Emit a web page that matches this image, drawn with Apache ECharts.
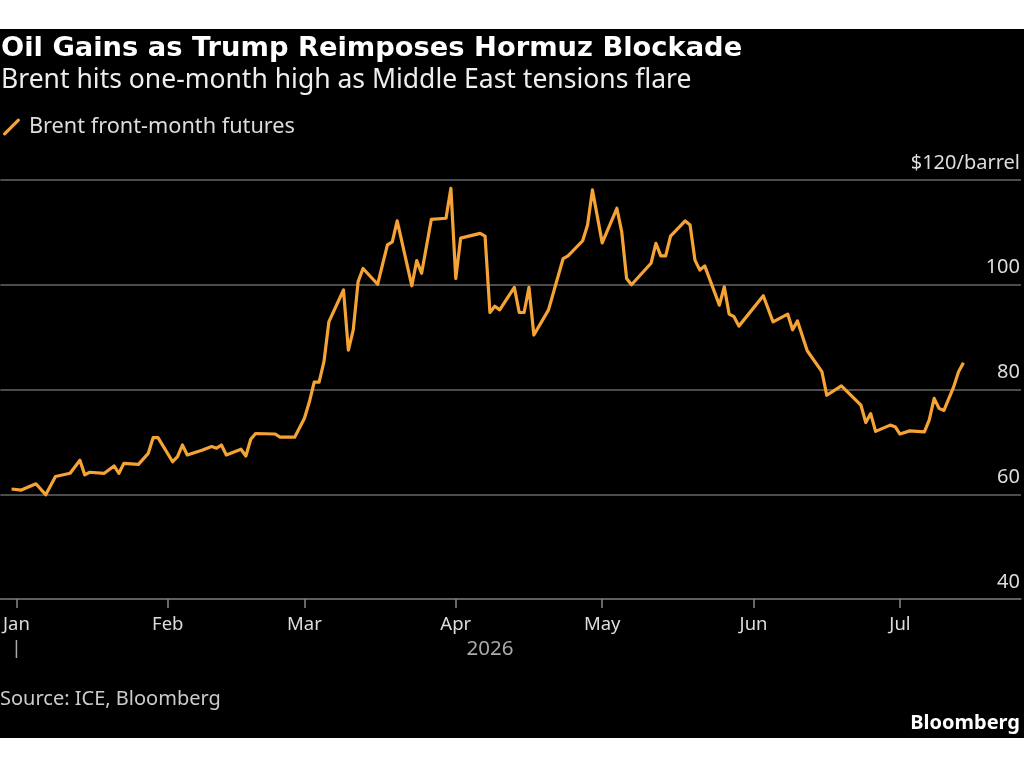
<!DOCTYPE html>
<html>
<head>
<meta charset="utf-8">
<title>Oil Gains as Trump Reimposes Hormuz Blockade</title>
<script src="https://cdn.jsdelivr.net/npm/echarts@6/dist/echarts.min.js"></script>
<style>
    html, body {
        margin: 0;
        padding: 0;
        background: #fff;
    }

    #chart {
        position: absolute;
        left: 0;
        top: 29px;
        width: 1024px;
        height: 709px;
    }
</style>
</head>
<body>
<div id="chart"></div>
<script>
// Brent front-month futures, $/barrel (turning points only)
const dates = [
    '2025-12-31', '2026-01-02', '2026-01-05', '2026-01-07', '2026-01-09', '2026-01-12', '2026-01-14',
    '2026-01-15', '2026-01-16', '2026-01-19', '2026-01-21', '2026-01-22', '2026-01-23', '2026-01-26',
    '2026-01-28', '2026-01-29', '2026-01-30', '2026-02-02', '2026-02-03', '2026-02-04', '2026-02-05',
    '2026-02-08', '2026-02-10', '2026-02-11', '2026-02-12', '2026-02-13', '2026-02-16', '2026-02-17',
    '2026-02-18', '2026-02-19', '2026-02-23', '2026-02-24', '2026-02-27', '2026-03-01', '2026-03-02',
    '2026-03-03', '2026-03-04', '2026-03-05', '2026-03-06', '2026-03-09', '2026-03-10', '2026-03-11',
    '2026-03-12', '2026-03-13', '2026-03-16', '2026-03-18', '2026-03-19', '2026-03-20', '2026-03-23',
    '2026-03-24', '2026-03-25', '2026-03-27', '2026-03-30', '2026-03-31', '2026-04-01', '2026-04-02',
    '2026-04-06', '2026-04-07', '2026-04-08', '2026-04-09', '2026-04-10', '2026-04-13', '2026-04-14',
    '2026-04-15', '2026-04-16', '2026-04-17', '2026-04-20', '2026-04-23', '2026-04-24', '2026-04-27',
    '2026-04-28', '2026-04-29', '2026-05-01', '2026-05-04', '2026-05-05', '2026-05-06', '2026-05-07',
    '2026-05-11', '2026-05-12', '2026-05-13', '2026-05-14', '2026-05-15', '2026-05-18', '2026-05-19',
    '2026-05-20', '2026-05-21', '2026-05-22', '2026-05-25', '2026-05-26', '2026-05-27', '2026-05-28',
    '2026-05-29', '2026-06-03', '2026-06-05', '2026-06-08', '2026-06-09', '2026-06-10', '2026-06-12',
    '2026-06-15', '2026-06-16', '2026-06-19', '2026-06-23', '2026-06-24', '2026-06-25', '2026-06-26',
    '2026-06-29', '2026-06-30', '2026-07-01', '2026-07-03', '2026-07-06', '2026-07-07', '2026-07-08',
    '2026-07-09', '2026-07-10', '2026-07-12', '2026-07-13', '2026-07-14'
];
const prices = [
    61.0, 60.8, 62.0, 59.9, 63.4, 64.0, 66.5,
    63.7, 64.2, 64.0, 65.4, 64.0, 65.9, 65.7,
    67.8, 70.8, 70.8, 66.2, 67.2, 69.4, 67.5,
    68.4, 69.1, 68.8, 69.4, 67.5, 68.6, 67.3,
    70.5, 71.6, 71.5, 70.9, 70.9, 74.5, 77.6,
    81.4, 81.4, 85.3, 92.9, 99.0, 87.5, 91.4,
    100.6, 103.1, 100.1, 107.6, 108.2, 112.2, 99.8,
    104.6, 102.2, 112.5, 112.7, 118.4, 101.2, 108.9,
    109.8, 109.3, 94.7, 95.9, 95.2, 99.5, 94.7,
    94.7, 99.5, 90.4, 95.2, 105.0, 105.5, 108.4,
    111.4, 118.1, 108.0, 114.6, 110.1, 101.2, 100.0,
    104.1, 107.9, 105.5, 105.5, 109.3, 112.2, 111.4,
    104.7, 102.8, 103.6, 96.1, 99.6, 94.4, 93.9,
    92.1, 97.9, 92.9, 94.4, 91.4, 93.1, 87.4,
    83.4, 78.9, 80.7, 77.0, 73.7, 75.4, 72.0,
    73.2, 72.9, 71.5, 72.1, 71.9, 74.2, 78.3,
    76.4, 76.0, 80.5, 83.4, 85.1
];
const yTicks = [40, 60, 80, 100, 120];
const monthNames = ['Jan', 'Feb', 'Mar', 'Apr', 'May', 'Jun', 'Jul', 'Aug', 'Sep', 'Oct', 'Nov', 'Dec'];
const yearLabel = '2026';
const seriesName = 'Brent front-month futures';

const orange = '#f6a336';
const fontMain = '"Noto Sans", "DejaVu Sans", sans-serif';

let chart = echarts.init(document.getElementById('chart'));

let option = {
    backgroundColor: '#000',
    animation: false,
    title: [
        {
            text: 'Oil Gains as Trump Reimposes Hormuz Blockade',
            left: 1,
            top: 6,
            padding: 0,
            textStyle: {
                color: '#fff',
                fontFamily: '"DejaVu Sans", sans-serif',
                fontWeight: 'bold',
                fontSize: 27.3,
            },
        },
        {
            text: 'Brent hits one-month high as Middle East tensions flare',
            left: 1,
            top: 38,
            padding: 0,
            textStyle: {
                color: '#eee',
                fontFamily: fontMain,
                fontWeight: 'normal',
                fontSize: 26.5,
            },
        },
        {
            text: 'Source: ICE, Bloomberg',
            left: 0,
            top: 660,
            padding: 0,
            textStyle: {
                color: '#ccc',
                fontFamily: fontMain,
                fontWeight: 'normal',
                fontSize: 20,
            },
        },
        {
            text: 'Bloomberg',
            right: 4,
            top: 684,
            padding: 0,
            textStyle: {
                color: '#fff',
                fontFamily: fontMain,
                fontWeight: 'bold',
                fontSize: 20,
            },
        },
    ],
    legend: {
        left: 3,
        top: 87,
        padding: 0,
        itemWidth: 17,
        itemHeight: 17,
        icon: 'path://M2,16 L14,4 A1.4,1.4 0 0 1 16,6 L4,18 A1.4,1.4 0 0 1 2,16 Z',
        textStyle: {
            color: '#ddd',
            fontFamily: fontMain,
            fontSize: 21.7,
            padding: [0, 0, 0, 4],
        },
        data: [seriesName],
    },
    grid: {
        left: 0,
        right: 3,
        top: 151,
        height: 419,
    },
    xAxis: {
        type: 'time',
        min: '2025-12-28 17:00:00',
        max: '2026-07-25 19:00:00',
        splitNumber: 7,
        axisLine: {
            lineStyle: {
                color: '#666',
                width: 1.5,
            },
        },
        axisTick: {
            show: true,
            length: 9,
            lineStyle: {
                color: '#888',
                width: 1.5,
            },
        },
        splitLine: { show: false },
        axisLabel: {
            color: '#ddd',
            fontFamily: fontMain,
            fontSize: 18.5,
            margin: 16,
            hideOverlap: false,
            formatter: function (val) {
                let d = new Date(val);
                return monthNames[d.getMonth()];
            },
        },
    },
    yAxis: {
        type: 'value',
        position: 'right',
        min: yTicks[0],
        max: yTicks[yTicks.length - 1],
        interval: 20,
        axisLine: { show: false },
        axisTick: { show: false },
        splitLine: {
            lineStyle: {
                color: '#666',
                width: 1.5,
            },
        },
        axisLabel: {
            inside: true,
            margin: 1,
            align: 'right',
            verticalAlign: 'bottom',
            lineHeight: 34,
            color: '#ddd',
            fontFamily: fontMain,
            fontSize: 20,
            formatter: function (v) {
                return v === 120 ? '$120/barrel' : v;
            },
        },
    },
    series: [
        {
            name: seriesName,
            type: 'line',
            showSymbol: false,
            symbol: 'none',
            data: dates.map((d, i) => [d, prices[i]]),
            itemStyle: { color: orange },
            lineStyle: {
                color: orange,
                width: 3.2,
                join: 'round',
            },
        },
    ],
};

chart.setOption(option);

// year marker under Jan and year label centred over the data span
let janX = chart.convertToPixel({ xAxisIndex: 0 }, '2026-01-01');
let endX = chart.convertToPixel({ xAxisIndex: 0 }, dates[dates.length - 1]);
chart.setOption({
    graphic: [
        {
            type: 'line',
            shape: { x1: janX, y1: 611, x2: janX, y2: 629 },
            style: { stroke: '#aaa', lineWidth: 1.5 },
        },
        {
            type: 'text',
            x: (janX + endX) / 2,
            y: 620,
            style: {
                text: yearLabel,
                fill: '#aaa',
                font: '20.5px ' + fontMain,
                textAlign: 'center',
                textVerticalAlign: 'middle',
            },
        },
    ],
});
</script>
</body>
</html>
